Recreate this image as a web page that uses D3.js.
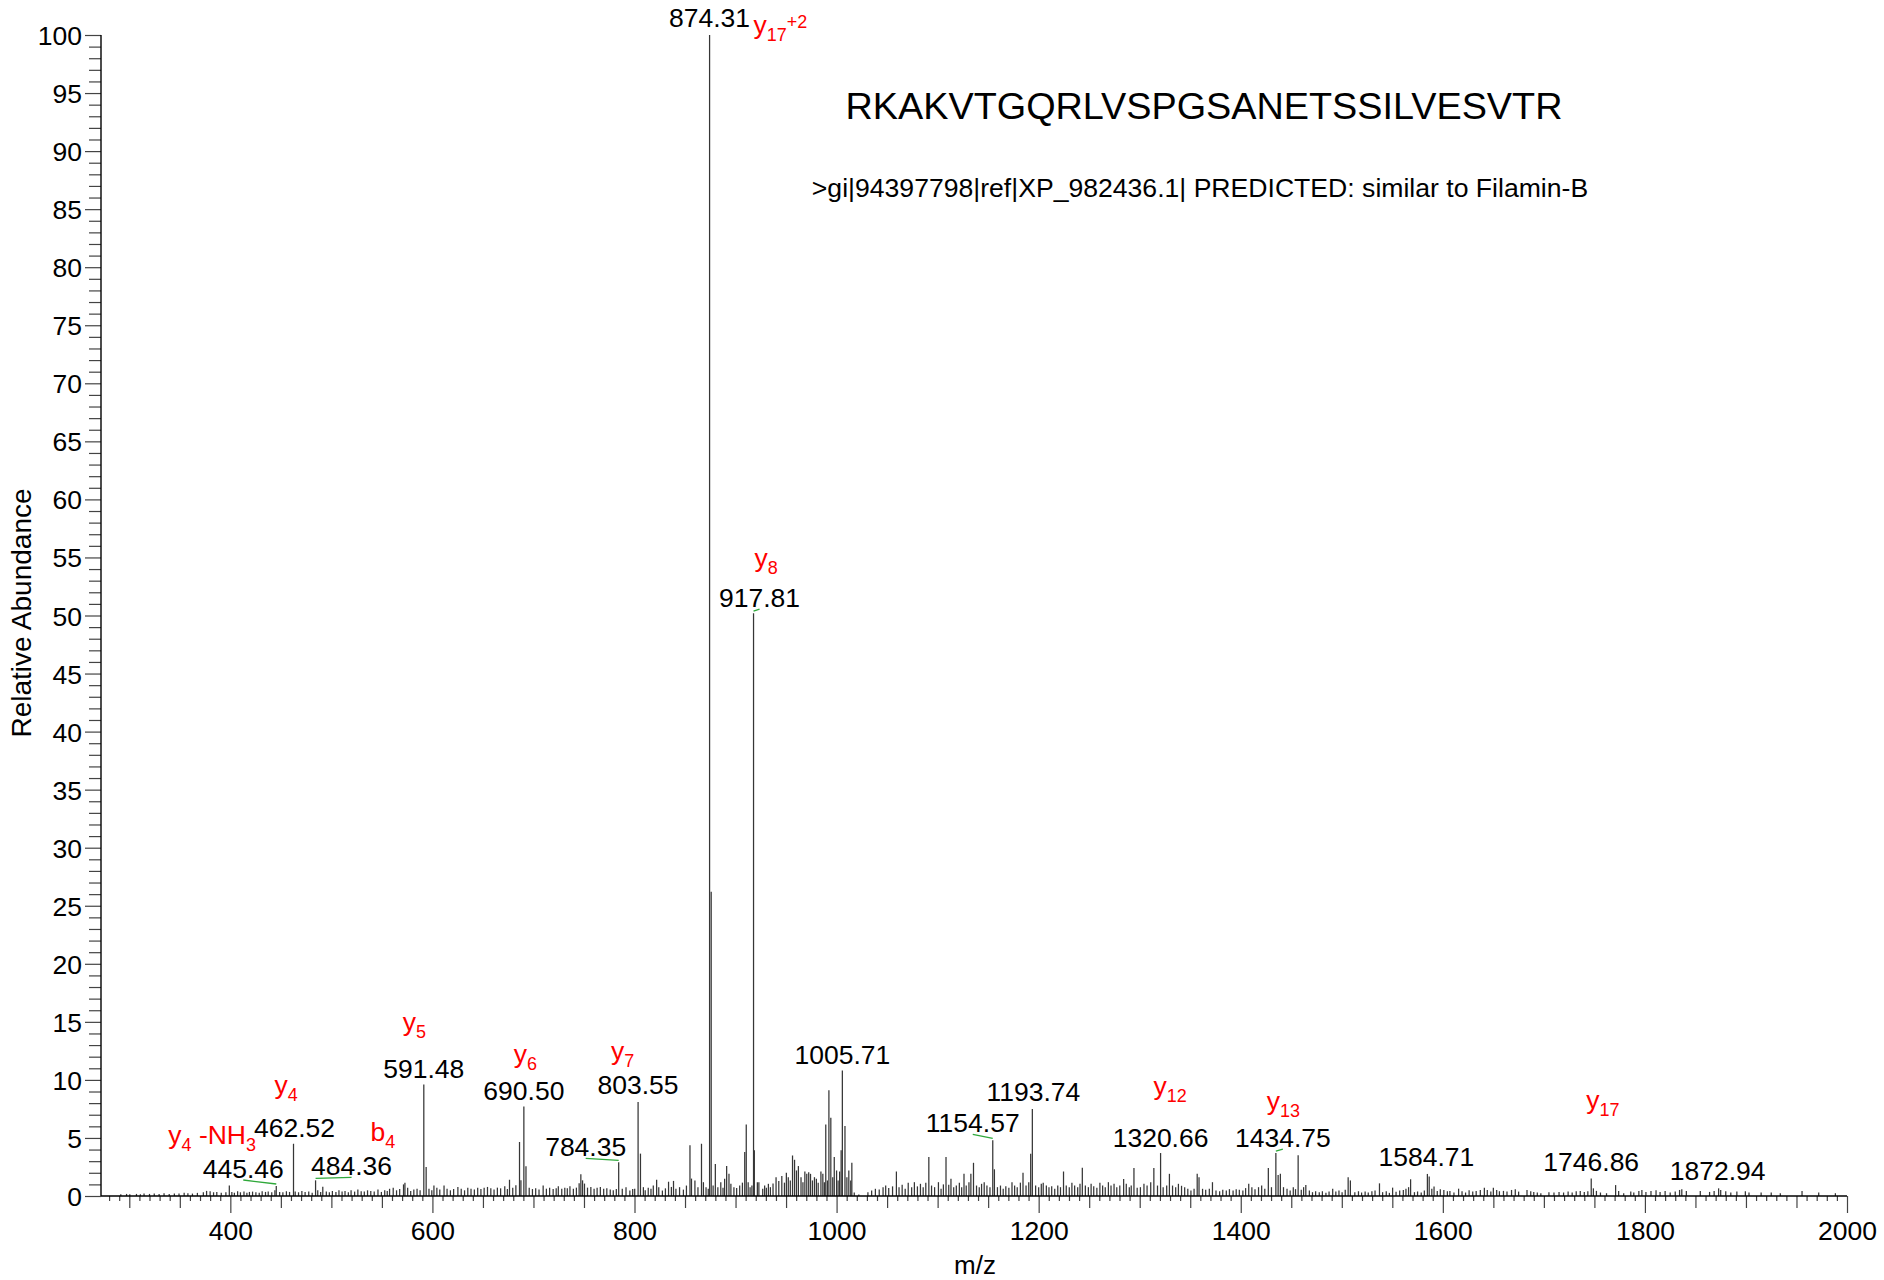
<!DOCTYPE html>
<html><head><meta charset="utf-8">
<script src="https://cdn.jsdelivr.net/npm/d3@7"></script>
<style>
body{margin:0;background:#fff}
svg{display:block}
text{font-family:"Liberation Sans",Arial,Helvetica,sans-serif;white-space:pre}
</style>
</head><body>
<svg id="chart" width="1884" height="1280"></svg>
<script>
// ---------------- DATA ----------------
const titleText = "RKAKVTGQRLVSPGSANETSSILVESVTR";
const subtitleText = ">gi|94397798|ref|XP_982436.1| PREDICTED: similar to Filamin-B";
const xAxisTitle = "m/z";
const yAxisTitle = "Relative Abundance";
const mzRange = [272, 2000];
const abundanceRange = [0, 100];
const xTickLabels = [400, 600, 800, 1000, 1200, 1400, 1600, 1800, 2000];
const yTickLabels = [0,5,10,15,20,25,30,35,40,45,50,55,60,65,70,75,80,85,90,95,100];

// labelled peaks (m/z, relative abundance)
const labelMz  = [445.46, 462.52, 484.36, 591.48, 690.50, 784.35, 803.55, 874.31, 917.81, 1005.71, 1154.57, 1193.74, 1320.66, 1434.75, 1584.71, 1746.86, 1872.94];
const labelInt = [0.86,   4.5,    1.35,   9.6,    7.7,    2.9,    8.1,    100,    50.2,   10.8,    4.8,     7.5,     3.7,     3.7,     1.9,     1.5,     0.66];

// fragment ion assignments ( _ = subscript, ^ = superscript )
const ionMz    = [445.46, 462.52, 484.36, 591.48, 690.50, 803.55, 874.31, 917.81, 1320.66, 1434.75, 1746.86];
const ionNames = ["y_4 -NH_3", "y_4", "b_4", "y_5", "y_6", "y_7", "y_17^+2", "y_8", "y_12", "y_13", "y_17"];

// unlabelled peaks [m/z, relative abundance]
const spectrumPeaks = [
[291.6,0.15],[297.3,0.18],[300.5,0.15],[307.1,0.18],[311,0.15],[314.6,0.21],[320,0.18],[324.7,0.21],[329.5,0.18],[334.4,0.24],[339.5,0.18],[344.6,0.21],[349.2,0.21],[354.3,0.27],[358,0.24],[362.5,0.21],[367.4,0.27],[373.3,0.32],[376.5,0.44],[380,0.41],[383.4,0.32],[386.6,0.35],[391,0.29],[395.6,0.32],[399,0.9],
[401.5,0.35],[404,0.29],[407.2,0.41],[410,0.32],[413.5,0.38],[416.4,0.29],[418.9,0.35],[422,0.38],[425.3,0.32],[428.6,0.29],[431.5,0.41],[434.8,0.35],[437.5,0.38],[441,0.32],[444.1,0.49],[448.8,0.35],[452,0.32],[455.5,0.41],[458.6,0.35],
[464.2,0.38],[467.5,0.32],[470.8,0.43],[474,0.35],[477.6,0.38],[481,0.29],[486.5,0.49],[489.4,0.35],[491.5,0.8],[495,0.38],[498,0.32],
[501,0.43],[504.5,0.35],[507.5,0.49],[510.6,0.38],[513.5,0.43],[516.8,0.32],[519.5,0.49],[523,0.38],[526.2,0.55],[529.5,0.41],[532.6,0.38],[535.8,0.49],[539,0.43],[542.4,0.38],[546.1,0.55],[549.5,0.35],[552.8,0.49],[555.3,0.43],[557.6,0.62],[561.2,0.72],[564.5,0.49],
[567.6,0.6],[571.4,1.0],[572.8,1.15],[575.5,0.72],[578.5,0.43],[581.6,0.55],[584.8,0.63],[587.8,0.49],[593.8,2.5],[596.6,0.63],[599.4,0.49],
[601.5,0.9],[604.4,0.72],[607.3,0.55],[611.5,0.9],[614.5,0.63],[617.8,0.49],[621,0.6],[625.2,0.78],[628.5,0.63],[631.8,0.49],[635,0.72],[638.2,0.63],[641.5,0.55],[644.8,0.72],[648,0.6],[651.2,0.72],[654.5,0.78],[657.8,0.66],[661,0.55],[664.3,0.72],[667.5,0.66],[671.6,0.84],[674.2,0.6],[676.3,1.4],[679.5,0.72],[682.6,0.92],[686.2,4.65],[687.6,1.35],[692.6,2.56],
[695.8,0.72],[699,0.6],[702.2,0.66],[705.5,0.55],[709.6,0.9],[712.8,0.63],[716,0.72],[719.5,0.6],[722.5,0.66],[724.6,0.84],[728,0.63],[731,0.72],[733.5,0.66],[736.1,0.84],[739.5,0.63],[742.5,0.72],[745.2,1.1],[746.9,1.87],[748.6,1.35],[750.5,1.07],[753.5,0.72],[756.8,0.78],[760,0.63],
[763,0.72],[766.2,0.78],[769.5,0.63],[772.6,0.66],[776,0.55],[779,0.49],[782,0.6],[787.9,0.62],[791.6,0.76],[795.4,0.47],[798.2,0.6],[800.2,0.62],[805.9,3.65],[808.8,0.76],[810.6,0.5],[813.6,0.7],[816.3,0.62],[818.6,0.9],[821.9,1.4],[824,0.76],[827.6,0.47],[830.6,0.66],[833.7,1.23],[836.5,0.78],[838.6,1.3],[841,0.62],[844.6,0.76],[848.4,0.55],[851.4,0.9],[854.9,4.37],[856.4,1.5],[859.8,1.34],[862.8,0.76],[866.3,4.5],[868.2,1.19],[870.8,0.76],[873,0.62],
[875.9,26.2],[877.8,0.9],[880,2.76],[882.5,0.76],[885.4,1.19],[887.6,0.7],[889.2,1.48],[891.2,2.58],[893.5,1.91],[895.4,1.05],[898.4,0.76],[901.1,0.68],[904.1,0.9],[906.8,1.15],[909.1,3.8],[910.6,6.16],[912.5,1.19],[914.4,0.76],[916.2,0.9],[918.6,3.93],[921.6,1.19],
[923.1,1.19],[926.9,0.62],[928.8,0.9],[930.5,0.7],[932.5,1.05],[934.5,0.76],[937.1,1.08],[940.1,1.62],[942.8,1.3],[945.8,1.72],[948.4,1.15],[950.3,2.0],[952.2,1.62],[954.2,1.34],[956.4,3.49],[958.4,3.12],[960.3,2.2],[962.2,2.58],[964.8,1.62],[966.7,1.19],[968.6,2.11],[970.5,1.91],[972.4,2.04],[974.2,1.91],[976.1,1.34],[978.1,1.62],[980,1.48],[981.8,1.15],[984.5,2.11],[986.4,1.91],[987.9,1.19],[989.3,6.16],[990.9,1.34],[992.4,9.1],[994.3,6.73],[996.2,1.62],[997.7,3.35],[1000,2.2],[1001.5,1.34],[1003,2.11],[1004.5,3.93],[1008.3,6.03],[1010.2,1.62],[1012.1,2.2],[1014,1.34],[1015.1,2.86],
[1017.5,0.3],[1022,0.12],[1031,0.33],[1034.7,0.47],[1038.4,0.62],[1042.2,0.55],[1046,0.76],[1048.6,0.9],[1051.6,0.68],[1055.4,0.83],[1059.2,2.11],[1061.8,0.76],[1064.9,0.97],[1067.9,0.62],[1070.9,1.15],[1074.3,0.76],[1077,1.19],[1080,0.83],[1083,1.05],[1085.7,0.76],[1088.3,1.15],[1091.3,3.35],[1094,0.9],[1097,0.76],[1100.8,1.19],
[1103.4,0.62],[1105.7,1.0],[1108.3,3.35],[1111,0.97],[1113.2,1.48],[1115.9,0.76],[1118.5,0.9],[1121.5,1.15],[1123.8,0.76],[1126.1,1.91],[1128.3,0.9],[1131,1.19],[1132.9,1.91],[1135.5,2.86],[1138.5,0.9],[1141.2,0.76],[1143.5,1.05],[1146.1,1.19],[1148.8,0.9],[1151.8,0.76],[1156.2,2.3],[1159.2,0.76],[1162.2,0.9],[1164.9,0.62],[1167.5,0.83],[1170.5,0.7],[1173.6,1.19],[1176.2,0.9],[1178.8,0.76],[1181.9,1.15],[1184.5,2.0],[1187.5,0.9],[1190.2,1.19],[1192.1,3.64],[1197,0.9],
[1200,0.76],[1202.6,1.05],[1204.5,1.15],[1207.6,0.9],[1210.2,0.76],[1212.9,0.83],[1215.9,0.62],[1218.9,0.9],[1221.6,0.76],[1224.6,2.11],[1227.3,0.9],[1230.3,0.76],[1232.9,1.15],[1235.6,0.9],[1238.6,0.76],[1240.9,1.05],[1243.2,2.43],[1246.2,0.9],[1249.2,0.76],[1251.9,1.05],[1254.5,0.83],[1257.6,0.7],[1260.6,1.15],[1263.3,0.9],[1265.9,0.76],[1269,1.19],[1271.6,0.9],[1274.6,1.05],[1277.3,0.76],[1280.3,0.9],[1284.1,1.46],[1286.7,1.05],[1289.7,0.76],[1291.6,0.9],[1294.3,2.41],[1297.5,0.7],
[1300.7,0.76],[1304.2,1.05],[1307.3,0.9],[1310.9,1.19],[1314,2.41],[1317.6,0.9],[1323.2,0.76],[1326.7,0.9],[1329.4,1.91],[1332.5,0.9],[1335.6,0.76],[1338.3,1.05],[1341.4,0.88],[1344.5,0.76],[1347.6,0.62],[1350.7,0.47],[1353.8,0.62],[1356.9,1.91],[1358.7,1.62],[1362.2,0.62],[1365.3,0.53],[1368.9,0.62],[1372,1.19],[1375.5,0.47],[1379.1,0.41],[1382.2,0.53],[1385.7,0.47],[1388.8,0.59],[1392.4,0.47],[1395.5,0.59],[1398.6,0.53],
[1402.1,0.47],[1404.8,0.68],[1407.9,1.05],[1411,0.76],[1414.1,0.59],[1417.6,0.76],[1420.7,0.9],[1423.8,0.62],[1427.3,2.41],[1430.4,0.76],[1437,1.8],[1439.2,1.91],[1442.3,0.76],[1445.8,0.62],[1448.9,0.47],[1452,0.76],[1454.2,0.59],[1456.8,3.5],[1459.9,0.53],[1462.2,0.76],[1464.4,0.95],[1467.9,0.47],[1471,0.33],[1474.1,0.41],[1477.7,0.33],[1480.8,0.41],[1484.3,0.27],[1487.4,0.39],[1491,0.62],[1494.1,0.39],[1497.2,0.47],[1500.3,0.33],[1503.4,0.53],[1506.3,1.62],[1508.5,1.34],
[1512.9,0.33],[1516.5,0.41],[1519.6,0.3],[1523.1,0.39],[1526.2,0.3],[1529.8,0.41],[1532.9,0.47],[1537.3,1.09],[1540.4,0.33],[1544,0.41],[1547.1,0.27],[1550.3,0.72],[1553.7,0.36],[1557.3,0.47],[1560.9,0.52],[1563.5,0.63],[1566.1,0.76],[1568.1,1.44],[1571.9,0.33],[1575,0.39],[1578.6,0.3],[1581.7,0.47],[1586.5,1.67],[1589.1,0.62],[1591.3,0.81],[1594.5,0.44],[1597.5,0.58],
[1601,0.52],[1604.5,0.41],[1607,0.44],[1611,0.3],[1615.6,0.63],[1619,0.41],[1622.5,0.3],[1626,0.49],[1629.6,0.38],[1633,0.44],[1637.1,0.52],[1641.1,0.72],[1644,0.52],[1647.5,0.38],[1650,0.72],[1653.3,0.52],[1656,0.41],[1660,0.44],[1663.5,0.38],[1668,0.52],[1671.7,0.58],[1675,0.38],[1683.3,0.52],[1687,0.41],[1690,0.35],[1693.5,0.3],[1697,0.24],
[1705,0.32],[1710,0.3],[1715,0.35],[1719.5,0.3],[1724,0.38],[1728,0.3],[1732,0.41],[1736,0.44],[1740,0.35],[1743.5,0.41],[1749,0.66],[1752,0.44],[1756,0.3],[1762,0.24],[1771,0.94],[1774,0.44],[1779,0.24],[1786,0.38],[1789,0.3],[1794,0.44],[1797,0.52],[1801,0.35],
[1806,0.44],[1811,0.49],[1815,0.35],[1820,0.44],[1825,0.3],[1830,0.38],[1834.3,0.52],[1836.5,0.58],[1841,0.44],[1854.8,0.44],[1864,0.35],[1868.5,0.44],[1875,0.52],[1880,0.41],[1885,0.3],[1891,0.38],[1899.4,0.41],[1903,0.3],[1915,0.3],[1925,0.3],[1934,0.24],[1955.5,0.44],[1972,0.3],[1988.5,0.24]
];

// ---------------- LAYOUT (pixel offsets for annotations) ----------------
// black m/z label: dx from peak, dy = baseline offset from peak top, lead = draw green leader
const labelLayout = [
 {dx:-33,dy:-8,lead:true},{dx:1,dy:-7},{dx:36,dy:-5,lead:true},{dx:0,dy:-7},{dx:0,dy:-7},
 {dx:-33,dy:-6,lead:true},{dx:0,dy:-8},{dx:0,dy:-8},{dx:6,dy:-6,lead:true},{dx:0,dy:-7},
 {dx:-20,dy:-8,lead:true},{dx:1,dy:-8},{dx:0,dy:-6},{dx:7,dy:-6,lead:true},{dx:-1,dy:-8},
 {dx:0,dy:-8},{dx:-1,dy:-8}
];
// red ion label: dx = start offset from peak x, dy = baseline offset from black label baseline
const ionLayout = [
 {dx:-108,dy:-34},{dx:-19,dy:-43},{dx:55,dy:-34},{dx:-21,dy:-47},{dx:-10,dy:-37},{dx:-27,dy:-34},
 {dx:44,dy:7},{dx:1,dy:-40},{dx:-7,dy:-52},{dx:-9,dy:-37},{dx:-5,dy:-62}
];

// ---------------- DRAW ----------------
const svg = d3.select("#chart");
const x = d3.scaleLinear().domain(mzRange).range([101, 1847]);
const y = d3.scaleLinear().domain(abundanceRange).range([1196, 35]);

const peaks = spectrumPeaks.map(([m, i]) => ({m, i}))
  .concat(labelMz.map((m, k) => ({m, i: labelInt[k]})));

svg.append("g").selectAll("line").data(peaks).join("line")
  .attr("x1", d => x(d.m)).attr("x2", d => x(d.m))
  .attr("y1", y(0)).attr("y2", d => y(d.i))
  .attr("stroke", "#363636").attr("stroke-width", 1.25);

// X axis
const gx = svg.append("g").attr("transform", `translate(0,${y(0)})`);
const xMinor = d3.range(280, 2001, 10).filter(v => v % 50 !== 0);
const xMid = d3.range(300, 2001, 50).filter(v => v % 200 !== 0);
function styleAxis(g){
  g.select(".domain").remove();
  g.selectAll(".tick line").attr("stroke", "#444").attr("stroke-width", 1.2);
}
gx.append("g").call(d3.axisBottom(x).tickValues(xMinor).tickSize(5).tickFormat("")).call(styleAxis);
gx.append("g").call(d3.axisBottom(x).tickValues(xMid).tickSize(12).tickFormat("")).call(styleAxis);
gx.append("g").call(d3.axisBottom(x).tickValues(xTickLabels).tickSize(17).tickFormat(d3.format("d"))).call(styleAxis)
  .call(g => g.selectAll(".tick text").attr("y", 44).attr("dy", null)
     .attr("font-size", 26.5).attr("fill", "#000"));
svg.append("line").attr("x1", x(mzRange[0])).attr("x2", x(mzRange[1]))
  .attr("y1", y(0)).attr("y2", y(0)).attr("stroke", "#000").attr("stroke-width", 1.4);

// Y axis
const gy = svg.append("g").attr("transform", `translate(${x(mzRange[0])},0)`);
const yMinor = d3.range(0, 101, 1).filter(v => v % 5 !== 0);
gy.append("g").call(d3.axisLeft(y).tickValues(yMinor).tickSize(12).tickFormat("")).call(styleAxis);
gy.append("g").call(d3.axisLeft(y).tickValues(yTickLabels).tickSize(16).tickFormat(d3.format("d"))).call(styleAxis)
  .call(g => g.selectAll(".tick text").attr("x", -19).attr("dy", "0.36em")
     .attr("font-size", 26.5).attr("fill", "#000"));
svg.append("line").attr("x1", x(mzRange[0])).attr("x2", x(mzRange[0]))
  .attr("y1", y(0)).attr("y2", y(100)).attr("stroke", "#000").attr("stroke-width", 1.4);

// Axis titles
svg.append("text").attr("x", 975).attr("y", 1274).attr("text-anchor", "middle")
  .attr("font-size", 26).text(xAxisTitle);
svg.append("text").attr("transform", "translate(31,613) rotate(-90)").attr("text-anchor", "middle")
  .attr("font-size", 28).text(yAxisTitle);

// Title & subtitle
svg.append("text").attr("x", 1204).attr("y", 119).attr("text-anchor", "middle")
  .attr("font-size", 37.8).text(titleText);
svg.append("text").attr("x", 1200).attr("y", 197).attr("text-anchor", "middle")
  .attr("font-size", 26.6).text(subtitleText);

// Peak m/z labels and leaders
const lab = labelMz.map((m, k) => {
  const px = x(m), py = y(labelInt[k]), L = labelLayout[k];
  return {m, px, py, lx: px + L.dx, ly: py + L.dy, lead: !!L.lead};
});
svg.append("g").selectAll("line").data(lab.filter(d => d.lead)).join("line")
  .attr("x1", d => d.px).attr("y1", d => d.py - 2)
  .attr("x2", d => d.lx).attr("y2", d => d.ly + 2)
  .attr("stroke", "#2fa83a").attr("stroke-width", 1.3);
svg.append("g").selectAll("text").data(lab).join("text")
  .attr("x", d => d.lx).attr("y", d => d.ly).attr("text-anchor", "middle")
  .attr("font-size", 26.5).attr("fill", "#000").text(d => d.m.toFixed(2));

// Ion labels (red)
function parseIon(s){
  const segs = []; let i = 0;
  while (i < s.length){
    const c = s[i];
    if (c === "_" || c === "^"){
      let j = i + 1; while (j < s.length && !"_^ ".includes(s[j])) j++;
      segs.push({t: s.slice(i + 1, j), k: c === "_" ? "sub" : "sup"}); i = j;
    } else {
      let j = i; while (j < s.length && !"_^".includes(s[j])) j++;
      segs.push({t: s.slice(i, j), k: "main"}); i = j;
    }
  }
  return segs;
}
ionMz.forEach((m, k) => {
  const li = labelMz.indexOf(m);
  const base = lab[li];
  const L = ionLayout[k];
  const bx = base.px + L.dx, by = base.ly + L.dy;
  const t = svg.append("text").attr("x", bx).attr("y", by).attr("fill", "#ff0000").attr("font-size", 26.5);
  parseIon(ionNames[k]).forEach(s => {
    t.append("tspan")
      .attr("y", s.k === "sub" ? by + 7 : s.k === "sup" ? by - 6 : by)
      .attr("font-size", s.k === "main" ? 26.5 : 18)
      .text(s.t);
  });
});
</script>
</body></html>
